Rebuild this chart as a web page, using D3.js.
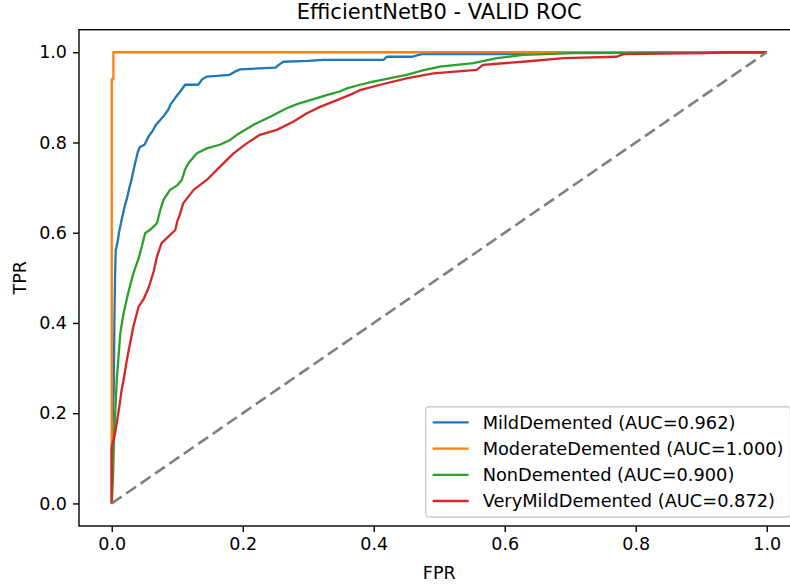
<!DOCTYPE html>
<html lang="en">
<head>
    <meta charset="utf-8" />
    <title>EfficientNetB0 - VALID ROC</title>
    <script src="https://d3js.org/d3.v7.min.js"></script>
    <style>
        body {
            margin: 0;
            background: white;
        }
        text {
            font-family: 'DejaVu Sans', sans-serif;
            fill: black;
        }
    </style>
</head>
<body>
    <script>

        // Class names and their AUC values
        const classes = ["MildDemented", "ModerateDemented", "NonDemented", "VeryMildDemented"];
        const aucs = [0.962, 1.000, 0.900, 0.872];
        const colors = ["#1f77b4", "#ff7f0e", "#2ca02c", "#d62728"];

        // ROC points [FPR, TPR]
        const rocMild = [[0, 0], [0, 0.12], [0.003, 0.25], [0.004, 0.4], [0.005, 0.5], [0.006, 0.56], [0.009, 0.58],
            [0.011, 0.6], [0.015, 0.628], [0.02, 0.66], [0.023, 0.675], [0.027, 0.7], [0.03, 0.717], [0.035, 0.75],
            [0.04, 0.78], [0.043, 0.79], [0.05, 0.795], [0.056, 0.813], [0.062, 0.825], [0.068, 0.84], [0.074, 0.85],
            [0.08, 0.86], [0.086, 0.872], [0.09, 0.885], [0.097, 0.899], [0.104, 0.912], [0.112, 0.928], [0.132, 0.928],
            [0.138, 0.94], [0.145, 0.946], [0.165, 0.948], [0.18, 0.95], [0.188, 0.957], [0.196, 0.962], [0.25, 0.966],
            [0.255, 0.972], [0.262, 0.979], [0.3, 0.981], [0.323, 0.983], [0.415, 0.983], [0.42, 0.99], [0.458, 0.99],
            [0.473, 0.996], [0.628, 0.996], [0.632, 1], [1, 1]];
        const rocModerate = [[0, 0], [0, 0.94], [0.0025, 0.94], [0.0025, 1], [1, 1]];
        const rocNon = [[0, 0], [0.002, 0.06], [0.003, 0.12], [0.004, 0.17], [0.006, 0.22], [0.0076, 0.274],
            [0.01, 0.318], [0.013, 0.377], [0.018, 0.421], [0.025, 0.466], [0.033, 0.51], [0.041, 0.543], [0.046, 0.57],
            [0.051, 0.599], [0.058, 0.606], [0.065, 0.615], [0.069, 0.621], [0.074, 0.65], [0.079, 0.673], [0.089, 0.695],
            [0.1, 0.705], [0.107, 0.717], [0.112, 0.74], [0.117, 0.754], [0.13, 0.776], [0.145, 0.787], [0.165, 0.795],
            [0.18, 0.805], [0.191, 0.817], [0.216, 0.839], [0.242, 0.857], [0.267, 0.876], [0.285, 0.886], [0.303, 0.894],
            [0.328, 0.905], [0.348, 0.913], [0.359, 0.92], [0.379, 0.928], [0.399, 0.935], [0.45, 0.95], [0.475, 0.96],
            [0.501, 0.968], [0.552, 0.976], [0.588, 0.987], [0.628, 0.994], [0.705, 0.998], [0.9, 0.999], [1, 1]];
        const rocVeryMild = [[0, 0], [0, 0.125], [0.005, 0.155], [0.01, 0.2], [0.013, 0.229], [0.015, 0.251],
            [0.018, 0.273], [0.023, 0.318], [0.028, 0.355], [0.033, 0.392], [0.041, 0.436], [0.048, 0.451], [0.056, 0.477],
            [0.064, 0.514], [0.069, 0.547], [0.076, 0.577], [0.084, 0.588], [0.097, 0.606], [0.1, 0.625], [0.104, 0.64],
            [0.109, 0.665], [0.125, 0.695], [0.145, 0.717], [0.165, 0.746], [0.186, 0.776], [0.206, 0.798], [0.226, 0.817],
            [0.252, 0.828], [0.277, 0.846], [0.298, 0.865], [0.318, 0.879], [0.344, 0.894], [0.369, 0.909], [0.379, 0.916],
            [0.41, 0.928], [0.45, 0.942], [0.491, 0.953], [0.557, 0.961], [0.567, 0.972], [0.628, 0.979], [0.69, 0.987],
            [0.771, 0.99], [0.781, 0.996], [0.908, 0.998], [0.934, 1], [1, 1]];
        const curves = [rocMild, rocModerate, rocNon, rocVeryMild];

        // Chance line and tick values
        const diagonal = [[0, 0], [1, 1]];
        const tickValues = [0, 0.2, 0.4, 0.6, 0.8, 1.0];

        // SVG and plot area
        const width = 790, height = 587;
        const plotLeft = 79, plotRight = 799.5, plotTop = 29.7, plotBottom = 526;

        const svg = d3.select("body")
            .append("svg")
            .attr("width", width)
            .attr("height", height)
            .style("background", "white");

        const x = d3.scaleLinear().domain([-0.05, 1.05]).range([plotLeft, plotRight]);
        const y = d3.scaleLinear().domain([-0.05, 1.05]).range([plotBottom, plotTop]);

        // Axes
        const xAxis = d3.axisBottom(x).tickValues(tickValues).tickFormat(d3.format(".1f"))
            .tickSize(6).tickPadding(6);
        const yAxis = d3.axisLeft(y).tickValues(tickValues).tickFormat(d3.format(".1f"))
            .tickSize(6).tickPadding(6);

        const gx = svg.append("g").attr("transform", `translate(0,${plotBottom})`).call(xAxis);
        const gy = svg.append("g").attr("transform", `translate(${plotLeft},0)`).call(yAxis);
        [gx, gy].forEach(g => {
            g.select(".domain").remove();
            g.selectAll("line").attr("stroke", "black").attr("stroke-width", 1.4);
            g.selectAll("text").style("font-size", "17.5px").style("font-family", "DejaVu Sans");
        });

        // ROC lines
        const line = d3.line().x(d => x(d[0])).y(d => y(d[1]));

        svg.selectAll(".roc")
            .data(curves)
            .enter()
            .append("path")
            .attr("class", "roc")
            .attr("d", line)
            .attr("fill", "none")
            .attr("stroke", (d, i) => colors[i])
            .attr("stroke-width", 2.3)
            .attr("stroke-linejoin", "round");

        // dashed chance line
        svg.append("path")
            .attr("d", line(diagonal))
            .attr("fill", "none")
            .attr("stroke", "gray")
            .attr("stroke-width", 2.6)
            .attr("stroke-dasharray", "12 5.5");

        // Spines (right one falls outside the picture)
        svg.append("rect")
            .attr("x", plotLeft).attr("y", plotTop)
            .attr("width", plotRight - plotLeft).attr("height", plotBottom - plotTop)
            .attr("fill", "none")
            .attr("stroke", "black")
            .attr("stroke-width", 1.4);

        // Title and axis labels
        svg.append("text")
            .attr("x", (plotLeft + plotRight) / 2).attr("y", 19)
            .attr("text-anchor", "middle")
            .style("font-size", "21px")
            .text("EfficientNetB0 - VALID ROC");

        svg.append("text")
            .attr("x", (plotLeft + plotRight) / 2).attr("y", 579)
            .attr("text-anchor", "middle")
            .style("font-size", "17.5px")
            .text("FPR");

        svg.append("text")
            .attr("transform", `translate(26,${(plotTop + plotBottom) / 2}) rotate(-90)`)
            .attr("text-anchor", "middle")
            .style("font-size", "17.5px")
            .text("TPR");

        // Legend, lower right
        const fs = 17.8;
        const legend = svg.append("g");
        const box = legend.append("rect")
            .attr("rx", 3.5)
            .attr("fill", "white")
            .attr("fill-opacity", 0.8)
            .attr("stroke", "#cccccc")
            .attr("stroke-width", 1.4);

        const rowH = 26.2, padTop = 15.6, padBottom = 16;
        const items = legend.selectAll(".item")
            .data(classes)
            .enter()
            .append("g")
            .attr("transform", (d, i) => `translate(0,${padTop + i * rowH})`);

        items.append("line")
            .attr("x1", 7).attr("x2", 7 + 36)
            .attr("y1", 0).attr("y2", 0)
            .attr("stroke", (d, i) => colors[i])
            .attr("stroke-width", 2.3);

        const labels = items.append("text")
            .attr("x", 7 + 36 + 14)
            .attr("y", 0)
            .attr("dy", "0.36em")
            .style("font-size", fs + "px")
            .text((d, i) => `${d} (AUC=${aucs[i].toFixed(3)})`);

        let maxW = 0;
        labels.each(function () { maxW = Math.max(maxW, this.getComputedTextLength()); });
        const boxW = 7 + 36 + 14 + maxW + 7;
        const boxH = padTop + rowH * (classes.length - 1) + padBottom;
        box.attr("x", 0).attr("y", 0).attr("width", boxW).attr("height", boxH);

        const lx = plotRight - 9 - boxW;
        const ly = plotBottom - 9 - boxH;
        legend.attr("transform", `translate(${lx},${ly})`);

    </script>
</body>
</html>
